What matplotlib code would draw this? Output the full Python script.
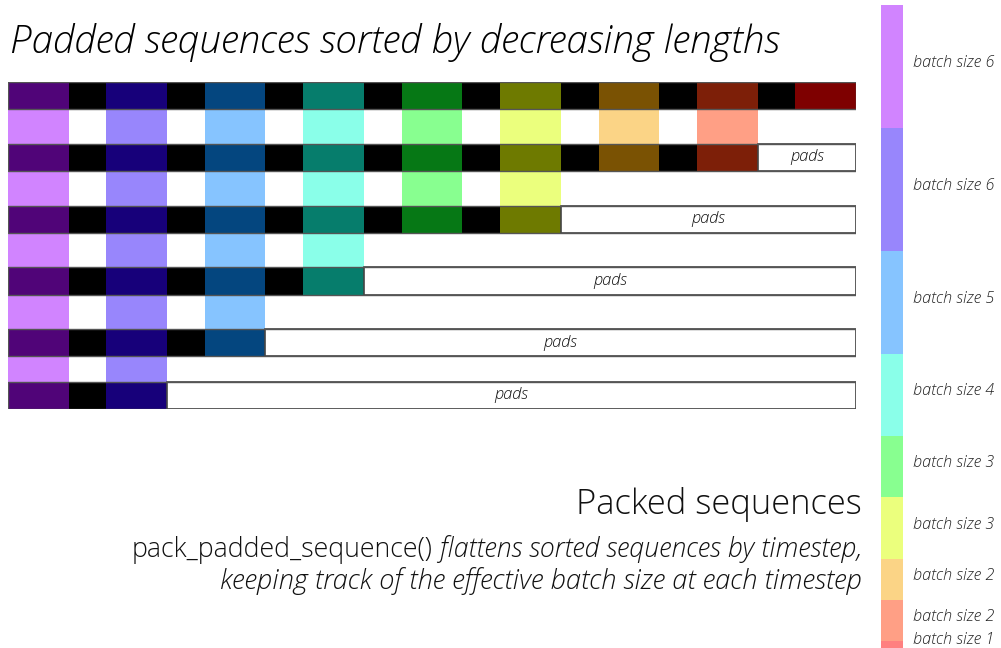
import numpy as np
import matplotlib
matplotlib.use("Agg")
import matplotlib.pyplot as plt
from matplotlib.patches import Rectangle

# ---------------------------------------------------------------- data
lengths = [9, 8, 6, 4, 3, 2]          # sorted sequence lengths
batch_sizes = [6, 6, 5, 4, 3, 3, 2, 2, 1]
batch_labels = ["batch size %d" % b for b in batch_sizes]
dark_colors = ["#500478", "#17007A", "#04467F", "#067D6C", "#067815",
               "#6E7A00", "#7A5203", "#7D1F08", "#7E0000"]
light_colors = ["#D184FF", "#9886FC", "#86C4FF", "#8AFFE9", "#88FF90",
                "#EBFF7D", "#FBD486", "#FF9F85", "#FF8080"]
pad_label = "pads"
title = "Padded sequences sorted by decreasing lengths"
packed_title = "Packed sequences"
func_name = "pack_padded_sequence()"
desc1 = " flattens sorted sequences by timestep,"
desc2 = "keeping track of the effective batch size at each timestep"

# ---------------------------------------------------------------- layout
W, H = 1001, 648
FONT = "Open Sans"
WEIGHT = "light"
cell_w = 0.615        # coloured cell width, in timestep units
dark_h = 0.44         # dark row height, in row-pitch units
row_gaps = [1, 1, 1, 1, 0.85]
row_top = np.concatenate([[0], np.cumsum(row_gaps)])
n_steps = max(lengths)
x_end = n_steps - 1 + cell_w

def fx(px):
    return px / W

def fy(py):
    return 1 - py / H

fig = plt.figure(figsize=(W / 100, H / 100), dpi=100)
fig.patch.set_facecolor("white")

# ------------------------------------------------------------ grid axes
ax = fig.add_axes([fx(8), fy(409), (856 - 8) / W, (409 - 82) / H])
ax.set_xlim(0, x_end)
ax.set_ylim(row_top[-1] + dark_h, 0)
ax.axis("off")

# light bands behind, from first row down to last row having that timestep
for t in range(n_steps):
    rows_with_t = [r for r, L in enumerate(lengths) if L > t]
    last = rows_with_t[-1]
    if last > 0:
        ax.add_patch(Rectangle((t, 0), cell_w, row_top[last],
                               facecolor=light_colors[t], edgecolor="none", zorder=1))

for r, L in enumerate(lengths):
    y = row_top[r]
    seq_end = L - 1 + cell_w
    ax.add_patch(Rectangle((0, y), seq_end, dark_h, facecolor="black",
                           edgecolor="none", zorder=2))
    for t in range(L):
        ax.add_patch(Rectangle((t, y), cell_w, dark_h, facecolor=dark_colors[t],
                               edgecolor="none", zorder=3))
    if L < n_steps:
        ax.add_patch(Rectangle((seq_end, y), x_end - seq_end, dark_h,
                               facecolor="white", edgecolor="#444444", lw=1.2, zorder=4))
        ax.text((seq_end + x_end) / 2, y + dark_h / 2, pad_label, ha="center",
                va="center", fontsize=11.8, style="italic", family=FONT,
                weight=WEIGHT, color="#111111", zorder=5)
    ax.add_patch(Rectangle((0, y), x_end, dark_h, facecolor="none",
                           edgecolor="#555555", lw=1.0, zorder=6))

# --------------------------------------------------------- batch size bar
cb = fig.add_axes([fx(881), 0, 22 / W, (648 - 5) / H])
unit_px = 20.5
y_max = (648 - 5) / unit_px
cb.set_xlim(-0.5, 0.5)
cb.set_ylim(y_max, 0)
cb.axis("off")
bottoms = np.concatenate([[0], np.cumsum(batch_sizes)[:-1]])
cb.bar(np.zeros(len(batch_sizes)), batch_sizes, bottom=bottoms, width=1.0,
       color=light_colors, edgecolor="none")
tr = cb.get_yaxis_transform()
for b0, bs, lab in zip(bottoms, batch_sizes, batch_labels):
    yc = min(b0 + bs / 2 - 0.15, y_max - 0.4)
    cb.text(1.45, yc, lab, transform=tr, ha="left", va="center",
            fontsize=11.7, style="italic", family=FONT, weight=WEIGHT,
            color="#222222", clip_on=False)

# ----------------------------------------------------------------- texts
fig.text(fx(10), fy(53), title, ha="left", va="baseline", fontsize=27.8,
         style="italic", family=FONT, weight=WEIGHT, color="#000000")
fig.text(fx(862), fy(514), packed_title, ha="right", va="baseline",
         fontsize=24.8, family=FONT, weight=WEIGHT, color="#111111")

t1 = fig.text(fx(862), fy(557), desc1, ha="right", va="baseline", fontsize=19.25,
              style="italic", family=FONT, weight=WEIGHT, color="#111111")
fig.text(fx(862), fy(589), desc2, ha="right", va="baseline", fontsize=19.7,
         style="italic", family=FONT, weight=WEIGHT, color="#111111")
fig.canvas.draw()
bb = t1.get_window_extent()
fig.text(bb.x0 / W, fy(557), func_name, ha="right", va="baseline", fontsize=19.25,
         family=FONT, weight=WEIGHT, color="#111111")

fig.savefig("out.png", dpi=100, facecolor="white")
